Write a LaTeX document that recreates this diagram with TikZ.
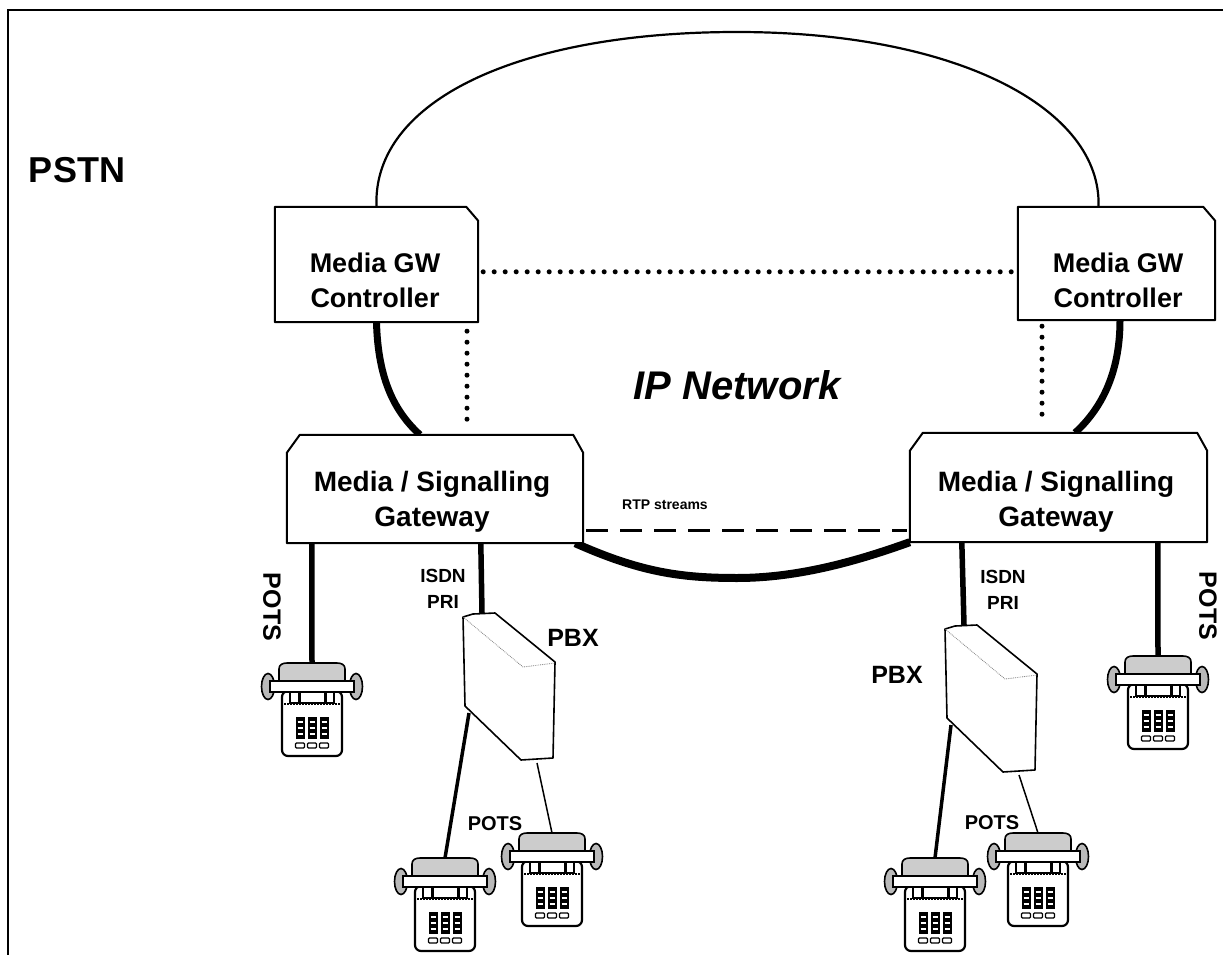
\documentclass[tikz,border=0pt]{standalone}
\usepackage{fontspec}
\setmainfont{Liberation Sans}
\usetikzlibrary{calc}

\tikzset{
  telephone/.pic={
    \coordinate (-top) at (0,0);
    % base
    \filldraw[fill=white, line width=2.2pt, rounded corners=6pt] (-30,28) rectangle (30,93);
    \draw[line width=2pt, dash pattern=on 1.5pt off 1.5pt] (-28,41) -- (28,41);
    \draw[line width=1.4pt] (-22,28) rectangle (22,40);
    \draw[line width=3pt] (-13,28) -- (-13,40) (13,28) -- (13,40);
    % cradle
    \filldraw[fill=gray!40, line width=1.6pt] (-33,18) -- (-33,6) .. controls (-33,2) and (-30,0) .. (-25,0) -- (25,0) .. controls (30,0) and (33,2) .. (33,6) -- (33,18) -- cycle;
    % handset
    \filldraw[fill=gray!55, line width=1.6pt] (-44,23.5) ellipse (6.5 and 13);
    \filldraw[fill=gray!55, line width=1.6pt] (44,23.5) ellipse (6.5 and 13);
    \filldraw[fill=white, line width=2pt] (-42,18) rectangle (42,29);
    % keypad
    \foreach \cx in {-12,0,12} {
      \fill (\cx-4.5,54) rectangle (\cx+4.5,76);
      \draw[white, line width=1.3pt] (\cx-2.5,59) -- (\cx+2.5,59) (\cx-2.5,65) -- (\cx+2.5,65) (\cx-2.5,71) -- (\cx+2.5,71);
      \draw[line width=1.2pt, rounded corners=1pt] (\cx-4.5,80) rectangle (\cx+4.5,85);
    }
  },
  pbxbox/.pic={
    \coordinate (-top) at (19,-4);
    \coordinate (-a) at (6,96);
    \coordinate (-b) at (74,146);
    \filldraw[fill=white, line width=1.6pt, line join=round] (0,0) -- (10,-3) -- (32,-4) -- (92,45) -- (90,141) -- (58,143) -- (2,89) -- cycle;
    \draw[line width=0.8pt, densely dotted, gray] (0,0) -- (60,50) -- (92,46);
  },
  outline/.style={draw=black, line width=2pt, fill=white, line join=round},
  thinring/.style={line width=2.2pt},
  thickring/.style={line width=7pt},
  dotline/.style={line width=5pt, line cap=round, dash pattern=on 0pt off 11pt},
  wire/.style={line width=5.5pt},
  boxtext/.style={inner sep=0pt, align=center, font=\fontsize{27}{35}\selectfont\bfseries},
  small/.style={inner sep=0pt, align=center, font=\fontsize{19}{26}\selectfont\bfseries},
  mid/.style={inner sep=0pt, font=\fontsize{25}{30}\selectfont\bfseries},
}

\begin{document}
\begin{tikzpicture}[x=1pt,y=-1pt]
\useasboundingbox (0,0) rectangle (1223,955);

% frame
\coordinate (fBL) at (8,955);
\coordinate (fTL) at (8,10);
\coordinate (fTR) at (1223,10);
\draw[line width=2.5pt] (fBL) -- (fTL) -- (fTR);

\node[inner sep=0pt, font=\fontsize{36}{40}\selectfont\bfseries] (pstn) at (77,170) {PSTN};

% box placeholders
\node[minimum width=203pt, minimum height=115pt] (mgcL) at (376.5,264.5) {};
\node[minimum width=197pt, minimum height=113pt] (mgcR) at (1116.5,263.5) {};
\node[minimum width=296pt, minimum height=108pt] (gwL) at (435,489) {};
\node[minimum width=297pt, minimum height=109pt] (gwR) at (1058.5,487.5) {};

% IP network cloud
\draw[thinring] (mgcL.north) .. controls (372,100) and (520,32) .. (737,32) .. controls (960,32) and (1102,110) .. ($(mgcR.north)+(-18,0)$);
\draw[thickring] (mgcL.south) .. controls (378,380) and (395,412) .. ($(gwL.north)+(-15,0)$);
\draw[thickring] ($(mgcR.south)+(3.5,0)$) .. controls (1120,375) and (1100,410) .. ($(gwR.north)+(16.5,0)$);
\draw[line width=8pt] ($(gwL.south east)+(-8,0)$) .. controls (640,572) and (680,578) .. (737,578) .. controls (800,578) and (860,560) .. (gwR.south west);

% signalling links
\draw[dotline] ($(mgcL.north east)+(5,65)$) -- ($(mgcR.north west)+(-5,65)$);
\draw[dotline] ($(mgcL.south)+(90.5,9)$) -- ($(gwL.north)+(32,-12)$);
\draw[dotline] ($(mgcR.south)+(-74.5,6)$) -- ($(gwR.north)+(-16.5,-18)$);
\draw[line width=3pt, dash pattern=on 22pt off 12pt] ($(gwL.south east)+(3,-13)$) -- ($(gwR.south west)+(-3,-12)$);
\node[inner sep=0pt, font=\fontsize{14}{16}\selectfont\bfseries] (rtp) at (665,505) {RTP streams};

% box outlines
\filldraw[outline] (mgcL.south west) -- (mgcL.north west) -- ($(mgcL.north east)+(-12,0)$) -- ($(mgcL.north east)+(0,14)$) -- (mgcL.south east) -- cycle;
\filldraw[outline] (mgcR.south west) -- (mgcR.north west) -- ($(mgcR.north east)+(-12,0)$) -- ($(mgcR.north east)+(0,14)$) -- (mgcR.south east) -- cycle;
\filldraw[outline] (gwL.south west) -- ($(gwL.north west)+(0,18)$) -- ($(gwL.north west)+(13,0)$) -- ($(gwL.north east)+(-10,0)$) -- ($(gwL.north east)+(0,18)$) -- (gwL.south east) -- cycle;
\filldraw[outline] (gwR.south west) -- ($(gwR.north west)+(0,18)$) -- ($(gwR.north west)+(13,0)$) -- ($(gwR.north east)+(-10,0)$) -- ($(gwR.north east)+(0,18)$) -- (gwR.south east) -- cycle;

\node[boxtext] (mgcLt) at (375,280) {Media GW\\Controller};
\node[boxtext] (mgcRt) at (1118,280) {Media GW\\Controller};
\node[boxtext, font=\fontsize{28}{35}\selectfont\bfseries] (gwLt) at (432,502) {Media / Signalling\\Gateway};
\node[boxtext, font=\fontsize{28}{35}\selectfont\bfseries] (gwRt) at (1056,502) {Media / Signalling\\Gateway};

\node[inner sep=0pt, font=\fontsize{40}{44}\selectfont\bfseries\itshape] (ipnet) at (737,385) {IP Network};

% PBXs and telephones
\pic (pbxL) at (463,617) {pbxbox};
\pic (pbxR) at (945,629) {pbxbox};
\pic (phA) at (312,663) {telephone};
\pic (phB) at (1158,656) {telephone};
\pic (phC) at (445,858) {telephone};
\pic (phD) at (552,833) {telephone};
\pic (phE) at (935,858) {telephone};
\pic (phF) at (1038,833) {telephone};

% access lines
\draw[wire] ($(gwL.south west)+(25,0)$) -- (phA-top);
\draw[wire] ($(gwL.south west)+(194,0)$) -- (pbxL-top);
\draw[wire] ($(gwR.south west)+(52,0)$) -- (pbxR-top);
\draw[wire] ($(gwR.south west)+(248,0)$) -- (phB-top);
\draw[line width=3.5pt] (pbxL-a) -- (phC-top);
\draw[line width=1.5pt] (pbxL-b) -- (phD-top);
\draw[line width=3.5pt] (pbxR-a) -- (phE-top);
\draw[line width=1.5pt] (pbxR-b) -- (phF-top);

% labels
\node[mid, rotate=-90] (potsA) at (272,607) {POTS};
\node[mid, rotate=-90] (potsB) at (1208,606) {POTS};
\node[small] (isdnL) at (443,589) {ISDN\\PRI};
\node[small] (isdnR) at (1003,590) {ISDN\\PRI};
\node[mid] (pbxLl) at (573,638) {PBX};
\node[mid] (pbxRl) at (897,675) {PBX};
\node[inner sep=0pt, font=\fontsize{20}{24}\selectfont\bfseries] (potsC) at (495,824) {POTS};
\node[inner sep=0pt, font=\fontsize{20}{24}\selectfont\bfseries] (potsD) at (992,823) {POTS};
\end{tikzpicture}
\end{document}
